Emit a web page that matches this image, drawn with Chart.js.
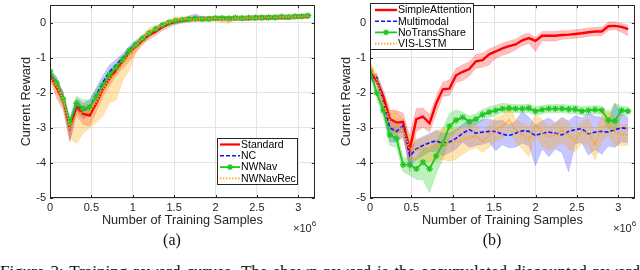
<!DOCTYPE html>
<html><head><meta charset="utf-8">
<script src="https://cdn.jsdelivr.net/npm/chart.js@4.4.1/dist/chart.umd.min.js"></script>
<style>
html,body{margin:0;padding:0;background:#fff;width:640px;height:270px;overflow:hidden;position:relative;font-family:"Liberation Sans",Arial,sans-serif;}
canvas{position:absolute;top:0;}
#c1{left:0} #c2{left:320px}
.sub{position:absolute;font-family:"Liberation Serif","Times New Roman",serif;font-size:16px;line-height:16px;top:232px;width:40px;text-align:center;color:#111;}
.exp{position:absolute;font-size:11px;line-height:11px;color:#262626;top:219px;white-space:nowrap;}
.exp sup{font-size:8px;position:relative;top:-1px;}
#cap{position:absolute;left:0;top:263px;width:640px;white-space:nowrap;text-align:justify;text-align-last:justify;font-family:"Liberation Serif","Times New Roman",serif;font-size:17px;line-height:17px;color:#111;}
</style></head><body>
<canvas id="c1" width="320" height="240"></canvas>
<canvas id="c2" width="320" height="240"></canvas>
<div class="sub" style="left:152px">(a)</div>
<div class="sub" style="left:472px">(b)</div>
<div class="exp" style="left:293px">×10<sup>6</sup></div>
<div class="exp" style="left:613px">×10<sup>6</sup></div>
<div id="cap">Figure 3: Training reward curves. The shown reward is the accumulated discounted reward</div>
<script>
// ---------- data ----------
const xs = [0,0.08,0.16,0.24,0.32,0.40,0.48,0.56,0.64,0.72,0.80,0.88,0.96,1.04,1.12,1.20,1.28,1.36,1.44,1.52,1.60,1.68,1.76,1.84,1.92,2.00,2.08,2.16,2.24,2.32,2.40,2.48,2.56,2.64,2.72,2.80,2.88,2.96,3.04,3.12];
const xTicks = [0,0.5,1,1.5,2,2.5,3];
const yTicks = [-5,-4,-3,-2,-1,0];

// (a)
const standardMean = [-1.5,-1.85,-2.2,-3.0,-2.4,-2.6,-2.65,-2.3,-1.9,-1.6,-1.35,-1.1,-0.85,-0.68,-0.5,-0.35,-0.25,-0.12,-0.03,0.03,0.06,0.09,0.1,0.1,0.11,0.12,0.12,0.12,0.13,0.13,0.12,0.14,0.14,0.15,0.16,0.15,0.16,0.17,0.18,0.18];
const standardDn = [0.1,0.3,0.3,0.4,0.25,0.3,0.3,0.25,0.2,0.2,0.15,0.2,0.25,0.15,0.12,0.12,0.1,0.1,0.1,0.08,0.07,0.07,0.06,0.06,0.06,0.06,0.06,0.06,0.06,0.06,0.06,0.06,0.06,0.06,0.06,0.06,0.06,0.06,0.06,0.06];
const standardUp = [0.1,0.2,0.2,0.2,0.15,0.2,0.2,0.15,0.15,0.15,0.12,0.12,0.12,0.1,0.1,0.08,0.08,0.08,0.06,0.06,0.06,0.06,0.06,0.06,0.06,0.06,0.06,0.06,0.06,0.06,0.06,0.06,0.06,0.06,0.06,0.06,0.06,0.06,0.06,0.06];
const ncMean = [-1.45,-1.7,-2.15,-2.95,-2.3,-2.5,-2.4,-2.05,-1.7,-1.4,-1.2,-1.0,-0.78,-0.6,-0.45,-0.3,-0.2,-0.08,0.0,0.05,0.08,0.12,0.15,0.1,0.12,0.12,0.13,0.1,0.13,0.12,0.13,0.15,0.13,0.14,0.15,0.16,0.15,0.17,0.18,0.2];
const ncDn = [0.1,0.2,0.2,0.4,0.2,0.25,0.2,0.2,0.15,0.15,0.12,0.12,0.12,0.1,0.1,0.08,0.08,0.08,0.06,0.06,0.06,0.06,0.06,0.06,0.06,0.06,0.06,0.06,0.06,0.06,0.06,0.06,0.06,0.06,0.06,0.06,0.06,0.06,0.06,0.06];
const ncUp = [0.1,0.15,0.15,0.2,0.15,0.2,0.2,0.2,0.2,0.2,0.15,0.12,0.12,0.1,0.1,0.08,0.08,0.08,0.06,0.06,0.06,0.08,0.1,0.06,0.06,0.06,0.06,0.06,0.06,0.06,0.06,0.06,0.06,0.06,0.06,0.06,0.06,0.06,0.06,0.06];
const nwNavMean = [-1.38,-1.72,-2.18,-2.85,-2.3,-2.45,-2.4,-2.1,-1.78,-1.48,-1.27,-1.05,-0.8,-0.62,-0.45,-0.3,-0.18,-0.07,0.01,0.05,0.08,0.1,0.12,0.11,0.11,0.13,0.13,0.12,0.14,0.13,0.14,0.14,0.15,0.15,0.15,0.17,0.16,0.18,0.18,0.2];
const nwNavDn = [0.08,0.2,0.2,0.25,0.2,0.2,0.2,0.2,0.15,0.15,0.12,0.12,0.12,0.1,0.1,0.08,0.08,0.06,0.06,0.06,0.06,0.06,0.06,0.06,0.06,0.06,0.06,0.06,0.06,0.06,0.06,0.06,0.06,0.06,0.06,0.06,0.06,0.06,0.06,0.06];
const nwNavUp = [0.08,0.15,0.15,0.15,0.2,0.25,0.2,0.2,0.15,0.15,0.12,0.12,0.1,0.1,0.08,0.08,0.06,0.06,0.06,0.06,0.06,0.06,0.06,0.06,0.06,0.06,0.06,0.06,0.06,0.06,0.06,0.06,0.06,0.06,0.06,0.06,0.06,0.06,0.06,0.06];
const nwNavRecMean = [-1.55,-1.8,-2.2,-3.0,-2.6,-2.55,-2.55,-2.25,-1.9,-1.6,-1.45,-1.15,-0.9,-0.65,-0.45,-0.28,-0.18,-0.07,0.02,0.07,0.1,0.1,0.09,0.12,0.11,0.13,0.1,0.08,0.13,0.12,0.14,0.13,0.14,0.15,0.15,0.16,0.17,0.17,0.18,0.19];
const nwNavRecDn = [0.1,0.2,0.2,0.3,0.85,0.6,0.45,0.6,0.75,0.7,0.75,0.5,0.45,0.2,0.15,0.12,0.1,0.08,0.08,0.08,0.06,0.06,0.06,0.06,0.06,0.08,0.1,0.1,0.06,0.06,0.06,0.06,0.06,0.06,0.06,0.06,0.06,0.06,0.06,0.06];
const nwNavRecUp = [0.1,0.15,0.15,0.2,0.15,0.2,0.2,0.2,0.15,0.15,0.12,0.12,0.12,0.1,0.1,0.15,0.1,0.08,0.08,0.1,0.06,0.06,0.06,0.06,0.06,0.06,0.06,0.06,0.06,0.06,0.06,0.06,0.06,0.06,0.06,0.06,0.06,0.06,0.06,0.06];

// (b)
const simpleAttMean = [-1.4,-1.65,-2.1,-2.75,-2.85,-2.83,-3.62,-2.75,-2.68,-2.87,-2.3,-1.9,-1.88,-1.5,-1.4,-1.32,-1.1,-1.07,-0.9,-0.82,-0.73,-0.67,-0.62,-0.5,-0.44,-0.52,-0.37,-0.37,-0.37,-0.35,-0.34,-0.32,-0.3,-0.27,-0.25,-0.25,-0.1,-0.09,-0.12,-0.18];
const simpleAttDn = [0.1,0.15,0.2,0.3,0.3,0.3,0.65,0.35,0.3,0.25,0.3,0.2,0.2,0.2,0.25,0.2,0.2,0.2,0.3,0.2,0.2,0.2,0.15,0.15,0.15,0.3,0.15,0.15,0.15,0.12,0.12,0.12,0.12,0.12,0.12,0.12,0.12,0.1,0.15,0.2];
const simpleAttUp = [0.1,0.15,0.2,0.25,0.35,0.25,0.4,0.3,0.25,0.25,0.2,0.2,0.25,0.2,0.2,0.2,0.2,0.2,0.15,0.15,0.15,0.15,0.15,0.15,0.15,0.1,0.12,0.12,0.12,0.12,0.12,0.12,0.12,0.12,0.12,0.12,0.12,0.12,0.1,0.1];
const multimodalMean = [-1.6,-1.55,-2.25,-3.0,-3.1,-2.95,-3.8,-3.6,-3.5,-3.42,-3.37,-3.45,-3.4,-3.3,-3.15,-3.05,-3.15,-3.12,-3.1,-3.1,-3.18,-3.22,-3.15,-3.08,-3.1,-3.22,-3.15,-3.12,-3.15,-3.2,-3.1,-3.05,-3.02,-3.18,-3.12,-3.1,-3.12,-3.05,-3.0,-3.02];
const multimodalDn = [0.1,0.15,0.3,0.4,0.3,0.3,0.3,0.3,0.3,0.25,0.3,0.35,0.3,0.3,0.25,0.5,0.35,0.35,0.3,0.55,0.3,0.35,0.4,0.35,0.4,0.85,0.45,0.7,0.45,0.5,1.15,0.4,0.4,0.6,0.5,0.65,0.4,0.5,0.4,0.4];
const multimodalUp = [0.1,0.1,0.2,0.2,0.2,0.2,0.2,0.25,0.25,0.25,0.3,0.3,0.25,0.25,0.25,0.3,0.3,0.35,0.35,0.3,0.4,0.3,0.35,0.55,0.4,0.3,0.35,0.4,0.3,0.5,0.3,0.4,0.3,0.6,0.45,0.4,0.3,0.75,0.4,0.3];
const noTransMean = [-1.35,-2.0,-2.5,-3.2,-3.3,-4.05,-4.05,-4.17,-3.98,-4.17,-3.8,-3.45,-2.95,-2.78,-2.7,-2.82,-2.75,-2.62,-2.55,-2.5,-2.45,-2.44,-2.45,-2.45,-2.44,-2.52,-2.48,-2.45,-2.45,-2.45,-2.47,-2.47,-2.52,-2.5,-2.48,-2.5,-2.78,-2.8,-2.5,-2.52];
const noTransDn = [0.1,0.15,0.2,0.3,0.25,0.2,0.3,0.3,0.5,0.68,0.5,0.45,0.35,0.3,0.25,0.15,0.15,0.15,0.15,0.15,0.12,0.12,0.12,0.12,0.12,0.12,0.12,0.12,0.12,0.12,0.12,0.12,0.12,0.12,0.12,0.12,0.25,0.3,0.15,0.12];
const noTransUp = [0.1,0.15,0.2,0.25,0.25,0.2,0.2,0.3,0.4,0.57,0.4,0.45,0.35,0.3,0.15,0.15,0.15,0.15,0.15,0.15,0.15,0.12,0.12,0.12,0.12,0.12,0.12,0.12,0.12,0.12,0.12,0.12,0.12,0.12,0.12,0.12,0.2,0.5,0.12,0.12];
const visLstmMean = [-1.22,-1.6,-2.3,-2.8,-2.9,-3.05,-3.6,-3.62,-3.6,-3.55,-3.5,-3.45,-3.45,-3.4,-3.35,-3.28,-3.22,-3.4,-3.2,-3.05,-2.95,-2.78,-3.05,-3.2,-3.33,-2.92,-3.1,-3.25,-3.2,-3.05,-3.2,-3.38,-3.1,-3.15,-3.47,-3.0,-2.87,-3.1,-3.2,-3.2];
const visLstmDn = [0.1,0.15,0.3,0.3,0.3,0.3,0.3,0.3,0.4,0.4,0.45,0.45,0.5,0.5,0.4,0.35,0.35,0.3,0.35,0.3,0.35,0.3,0.35,0.4,0.5,0.3,0.4,0.4,0.35,0.35,0.4,0.3,0.35,0.35,0.45,0.4,0.35,0.4,0.3,0.3];
const visLstmUp = [0.1,0.15,0.3,0.3,0.35,0.3,0.3,0.3,0.3,0.35,0.4,0.45,0.45,0.4,0.35,0.35,0.3,0.3,0.3,0.35,0.3,0.45,0.3,0.35,0.35,0.3,0.35,0.3,0.35,0.3,0.35,0.3,0.3,0.4,0.35,0.35,0.4,0.35,0.3,0.3];

// ---------- styles ----------
const RED = '#ff0000', BLUE = '#1414ff', GREEN = '#1ec81e', ORANGE = '#ffa31a';
const seriesA = [
  {label:'Standard', mean:standardMean, dn:standardDn, up:standardUp, color:RED, band:'rgba(255,0,0,0.25)', width:2.2, dash:[]},
  {label:'NC', mean:ncMean, dn:ncDn, up:ncUp, color:BLUE, band:'rgba(0,0,255,0.22)', width:1.6, dash:[4,2]},
  {label:'NWNav', mean:nwNavMean, dn:nwNavDn, up:nwNavUp, color:GREEN, band:'rgba(0,200,0,0.25)', width:1.8, dash:[], marker:true},
  {label:'NWNavRec', mean:nwNavRecMean, dn:nwNavRecDn, up:nwNavRecUp, color:ORANGE, band:'rgba(255,165,0,0.3)', width:1.8, dash:[1.5,1.5]}
];
const seriesB = [
  {label:'SimpleAttention', mean:simpleAttMean, dn:simpleAttDn, up:simpleAttUp, color:RED, band:'rgba(255,0,0,0.25)', width:2.4, dash:[]},
  {label:'Multimodal', mean:multimodalMean, dn:multimodalDn, up:multimodalUp, color:BLUE, band:'rgba(40,40,255,0.26)', width:1.6, dash:[4,2]},
  {label:'NoTransShare', mean:noTransMean, dn:noTransDn, up:noTransUp, color:GREEN, band:'rgba(0,200,0,0.25)', width:1.8, dash:[], marker:true},
  {label:'VIS-LSTM', mean:visLstmMean, dn:visLstmDn, up:visLstmUp, color:ORANGE, band:'rgba(255,165,0,0.3)', width:1.8, dash:[1.5,1.5]}
];

const FONT = '"Liberation Sans", Arial, Helvetica, sans-serif';
const AXC = '#262626';

function drawStar(ctx, x, y, r, color) {
  ctx.save();
  ctx.strokeStyle = color; ctx.lineWidth = 1.2; ctx.setLineDash([]);
  ctx.beginPath();
  for (let k = 0; k < 4; k++) {
    const a = k * Math.PI / 4;
    ctx.moveTo(x - r * Math.cos(a), y - r * Math.sin(a));
    ctx.lineTo(x + r * Math.cos(a), y + r * Math.sin(a));
  }
  ctx.stroke();
  ctx.restore();
}

const framePlugin = {
  id: 'frame',
  afterDatasetsDraw(chart) {
    const {ctx, chartArea: a, scales} = chart;
    ctx.save();
    ctx.strokeStyle = AXC; ctx.lineWidth = 1;
    ctx.strokeRect(Math.round(a.left) + 0.5, Math.round(a.top) + 0.5, Math.round(a.right - a.left) - 1, Math.round(a.bottom - a.top) - 1);
    ctx.beginPath();
    xTicks.forEach(v => {
      const px = Math.round(scales.x.getPixelForValue(v)) + 0.5;
      ctx.moveTo(px, a.bottom); ctx.lineTo(px, a.bottom - 3);
      ctx.moveTo(px, a.top); ctx.lineTo(px, a.top + 3);
    });
    yTicks.forEach(v => {
      const py = Math.round(scales.y.getPixelForValue(v)) + 0.5;
      ctx.moveTo(a.left, py); ctx.lineTo(a.left + 3, py);
      ctx.moveTo(a.right, py); ctx.lineTo(a.right - 3, py);
    });
    ctx.stroke();
    ctx.restore();
  }
};

const boxLegend = {
  id: 'boxLegend',
  afterDraw(chart, args, o) {
    if (!o || !o.items) return;
    const ctx = chart.ctx;
    ctx.save();
    ctx.fillStyle = '#fff';
    ctx.fillRect(o.x, o.y, o.w, o.h);
    ctx.strokeStyle = AXC; ctx.lineWidth = 1;
    ctx.strokeRect(o.x + 0.5, o.y + 0.5, o.w, o.h);
    o.items.forEach((it, i) => {
      const cy = o.y + o.first + i * o.rowH;
      ctx.strokeStyle = it.color; ctx.lineWidth = it.width;
      ctx.setLineDash(it.dash);
      ctx.beginPath(); ctx.moveTo(o.l0, cy); ctx.lineTo(o.l1, cy); ctx.stroke();
      ctx.setLineDash([]);
      if (it.marker) drawStar(ctx, (o.l0 + o.l1) / 2, cy, 3, it.color);
      ctx.fillStyle = '#000';
      ctx.font = '10.5px ' + FONT;
      ctx.textBaseline = 'middle'; ctx.textAlign = 'left';
      ctx.fillText(it.label, o.tx, cy + 0.5);
    });
    ctx.restore();
  }
};

function makeChart(id, series, legend, rightPad) {
  const n = series.length;
  const datasets = [];
  series.forEach((s, i) => {
    datasets.push({
      data: xs.map((x, j) => ({x, y: s.mean[j] + s.up[j]})),
      fill: '+1', backgroundColor: s.band, borderColor: s.band, borderWidth: 0.6,
      pointRadius: 0, tension: 0, order: 20 + (n - i)
    });
    datasets.push({
      data: xs.map((x, j) => ({x, y: s.mean[j] - s.dn[j]})),
      fill: false, borderColor: s.band, borderWidth: 0.6,
      pointRadius: 0, tension: 0, order: 20 + (n - i)
    });
  });
  series.forEach((s, i) => {
    datasets.push({
      label: s.label,
      data: xs.map((x, j) => ({x, y: s.mean[j]})),
      fill: false, borderColor: s.color, borderWidth: s.width, borderDash: s.dash,
      pointRadius: s.marker ? 3.2 : 0,
      pointStyle: 'star', pointBorderColor: s.color, pointBackgroundColor: s.color, pointBorderWidth: 1.2,
      tension: 0, order: n - i
    });
  });
  return new Chart(document.getElementById(id), {
    type: 'line',
    data: {datasets},
    options: {
      responsive: false, animation: false, devicePixelRatio: 1,
      layout: {padding: {left: 0, top: 0, right: rightPad, bottom: 0}},
      plugins: {legend: {display: false}, tooltip: {enabled: false}, boxLegend: legend},
      scales: {
        x: {
          type: 'linear', min: 0, max: 3.2,
          afterBuildTicks: s => { s.ticks = xTicks.map(v => ({value: v})); },
          ticks: {padding: 3, color: AXC, font: {size: 11, family: FONT}, callback: v => String(v), maxRotation: 0, autoSkip: false},
          grid: {color: '#e4e4e4', drawTicks: false},
          border: {display: false},
          title: {display: true, text: 'Number of Training Samples', color: AXC, font: {size: 12.7, family: FONT}, padding: {top: 0, bottom: 12}},
          afterFit: s => { s.height = 42; s.paddingLeft = 0; s.paddingRight = 0; }
        },
        y: {
          type: 'linear', min: -5, max: 0.5,
          afterBuildTicks: s => { s.ticks = yTicks.map(v => ({value: v})); },
          ticks: {padding: 4, color: AXC, font: {size: 11, family: FONT}, callback: v => String(v)},
          grid: {color: '#e4e4e4', drawTicks: false},
          border: {display: false},
          title: {display: true, text: 'Current Reward', color: AXC, font: {size: 12.7, family: FONT}, padding: {top: 19, bottom: 0}},
          afterFit: s => { s.width = 50; s.paddingTop = 0; s.paddingBottom = 0; }
        }
      }
    },
    plugins: [framePlugin, boxLegend]
  });
}

makeChart('c1', seriesA, {x: 217, y: 138, w: 80, h: 46, first: 6.5, rowH: 11.3, l0: 220, l1: 240, tx: 241, items: seriesA}, 1);
makeChart('c2', seriesB, {x: 50, y: 3, w: 103, h: 46, first: 7, rowH: 11.2, l0: 55, l1: 77, tx: 78, items: seriesB}, 2);
</script>
</body></html>
